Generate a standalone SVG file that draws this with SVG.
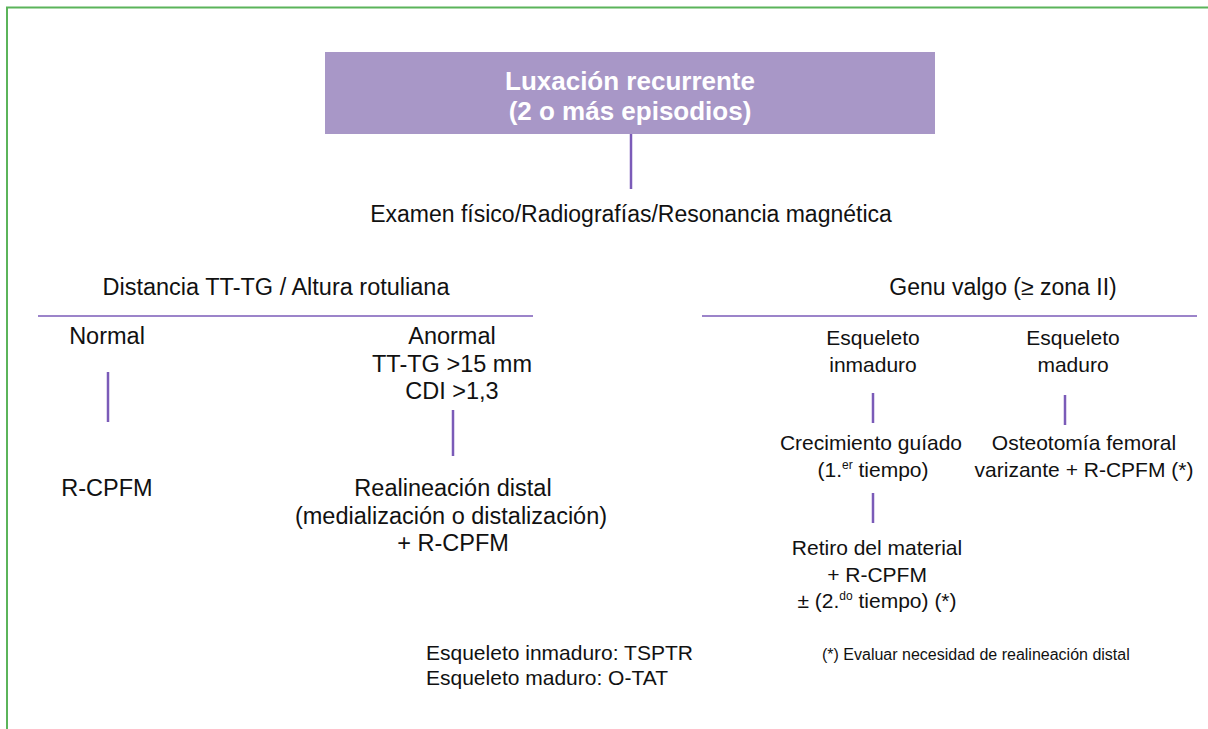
<svg xmlns="http://www.w3.org/2000/svg" width="1208" height="729" viewBox="0 0 1208 729">
<style>
text{font-family:"Liberation Sans",Arial,Helvetica,sans-serif;fill:#111;text-anchor:middle}
.t{font-size:23.5px}
.r{font-size:21px}
.h{font-size:23px}
.title{font-size:26px;font-weight:bold;fill:#fff}
.fn{font-size:21px;text-anchor:start}
.fs{font-size:16px;text-anchor:start}
.c{stroke:#7B5BB8;stroke-width:2.5;fill:none}
.u{stroke:#7B5BB8;stroke-width:1.3;fill:none}
</style>
<rect x="7" y="7.5" width="1230" height="740" fill="none" stroke="#5BB45A" stroke-width="2"/>
<g id="connectors">
<line class="c" x1="631" y1="134" x2="631" y2="189"/>
<line class="u" x1="38" y1="316" x2="533" y2="316"/>
<line class="u" x1="702" y1="316" x2="1197" y2="316"/>
<line class="c" x1="108" y1="372" x2="108" y2="422"/>
<line class="c" x1="453" y1="410" x2="453" y2="456"/>
<line class="c" x1="873" y1="393" x2="873" y2="423"/>
<line class="c" x1="1065" y1="395" x2="1065" y2="425"/>
<line class="c" x1="873" y1="493" x2="873" y2="523"/>
</g>
<g id="n-root">
<rect x="325" y="52" width="610" height="82" fill="#A897C7"/>
<text class="title" x="630" y="90">Luxación recurrente</text>
<text class="title" x="630" y="120">(2 o más episodios)</text>
</g>
<g id="n-examen"><text class="h" x="631" y="222">Examen físico/Radiografías/Resonancia magnética</text></g>
<g id="n-distancia"><text class="h" style="font-size:23.5px" x="276" y="295">Distancia TT-TG / Altura rotuliana</text></g>
<g id="n-genu"><text class="h" x="1003" y="295">Genu valgo (≥ zona II)</text></g>
<g id="n-normal"><text class="t" x="107" y="344">Normal</text></g>
<g id="n-rcpfm"><text class="t" x="107" y="496">R-CPFM</text></g>
<g id="n-anormal">
<text class="t" x="452" y="344">Anormal</text>
<text class="t" x="452" y="372">TT-TG &gt;15 mm</text>
<text class="t" x="452" y="399">CDI &gt;1,3</text>
</g>
<g id="n-realineacion">
<text class="t" x="453" y="496">Realineación distal</text>
<text class="t" x="451" y="524">(medialización o distalización)</text>
<text class="t" x="453" y="551">+ R-CPFM</text>
</g>
<g id="n-inmaduro">
<text class="r" x="873" y="345">Esqueleto</text>
<text class="r" x="873" y="372">inmaduro</text>
</g>
<g id="n-maduro">
<text class="r" x="1073" y="345">Esqueleto</text>
<text class="r" x="1073" y="372">maduro</text>
</g>
<g id="n-crecimiento">
<text class="r" x="871" y="450">Crecimiento guíado</text>
<text class="r" x="873" y="477">(1.<tspan font-size="12" dy="-8">er</tspan><tspan dy="8"> tiempo)</tspan></text>
</g>
<g id="n-osteotomia">
<text class="r" x="1084" y="450">Osteotomía femoral</text>
<text class="r" x="1084" y="477">varizante + R-CPFM (*)</text>
</g>
<g id="n-retiro">
<text class="r" x="877" y="555">Retiro del material</text>
<text class="r" x="877" y="582">+ R-CPFM</text>
<text class="r" x="877" y="608">± (2.<tspan font-size="12" dy="-8">do</tspan><tspan dy="8"> tiempo) (*)</tspan></text>
</g>
<g id="n-nota1">
<text class="fn" x="426" y="660">Esqueleto inmaduro: TSPTR</text>
<text class="fn" x="426" y="685">Esqueleto maduro: O-TAT</text>
</g>
<g id="n-nota2"><text class="fs" x="822" y="660">(*) Evaluar necesidad de realineación distal</text></g>
</svg>
